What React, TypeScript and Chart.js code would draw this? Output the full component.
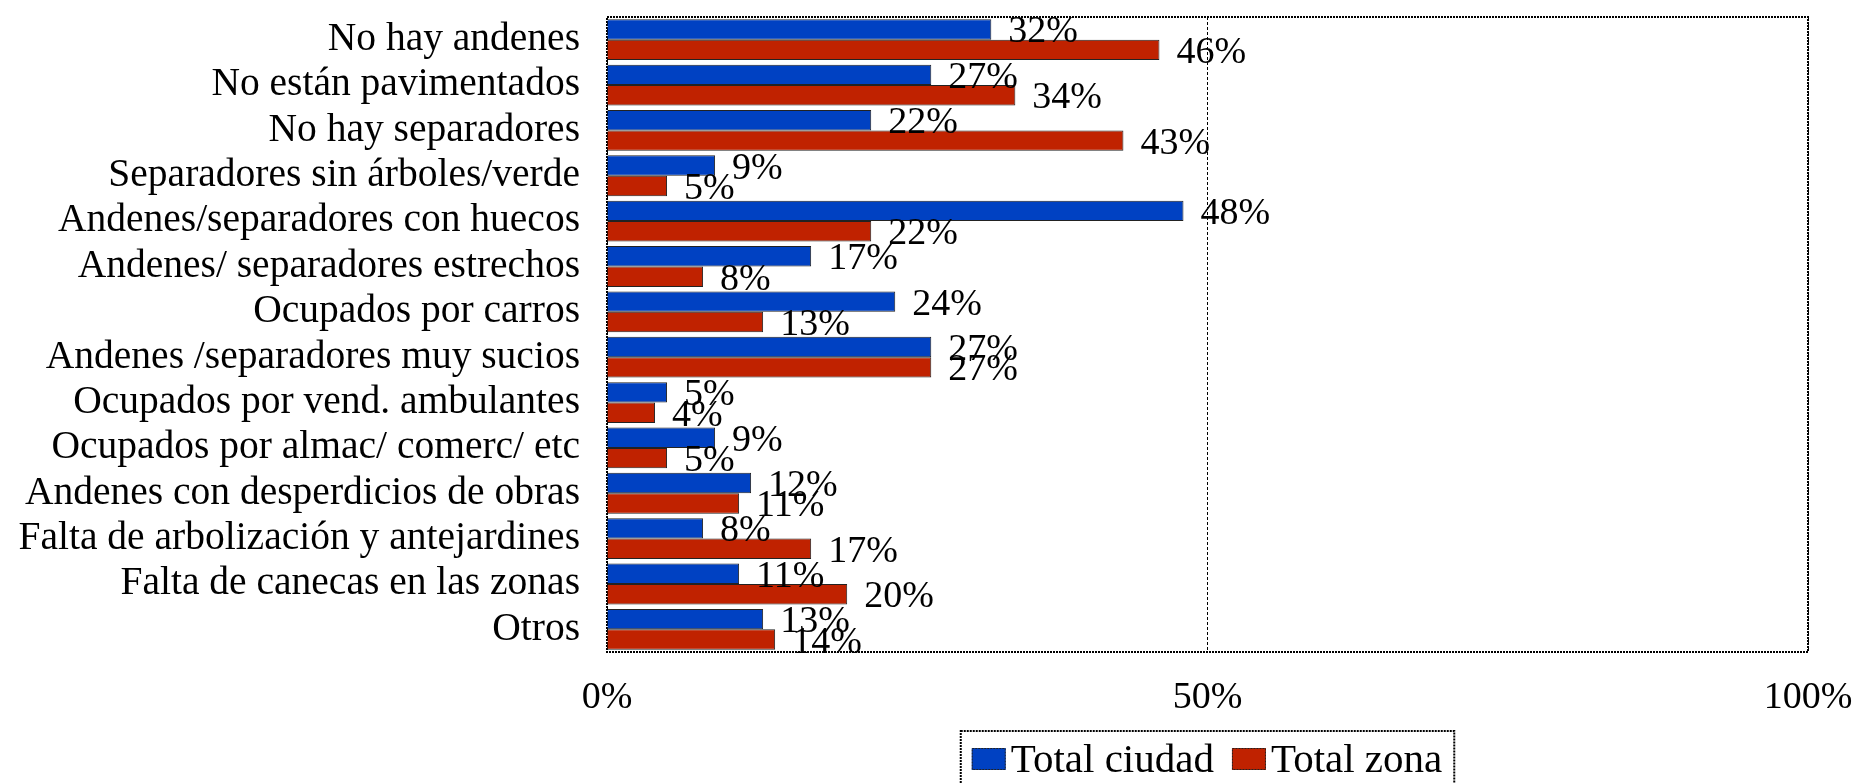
import React, { useEffect, useRef } from 'react';
import { Chart, registerables } from 'chart.js';

Chart.register(...registerables);

const categories = [
  'No hay andenes',
  'No están pavimentados',
  'No hay separadores',
  'Separadores sin árboles/verde',
  'Andenes/separadores con huecos',
  'Andenes/ separadores estrechos',
  'Ocupados por carros',
  'Andenes /separadores muy sucios',
  'Ocupados por vend. ambulantes',
  'Ocupados por almac/ comerc/ etc',
  'Andenes con desperdicios de obras',
  'Falta de arbolización y antejardines',
  'Falta de canecas en las zonas',
  'Otros',
];
const totalCiudad = [32, 27, 22, 9, 48, 17, 24, 27, 5, 9, 12, 8, 11, 13];
const totalZona = [46, 34, 43, 5, 22, 8, 13, 27, 4, 5, 11, 17, 20, 14];
const seriesNames = ['Total ciudad', 'Total zona'];
const seriesColors = ['#0041C2', '#C02200'];
const xTickValues = [0, 50, 100];

const FONT = '"Liberation Serif", "Times New Roman", serif';
const FS = 38;
const FS_CAT = 39.5;
const FS_LEG = 41;

const framePlugin = {
  id: 'frame',
  beforeDatasetsDraw(chart: any) {
    const { ctx, chartArea: a } = chart;
    ctx.save();
    ctx.strokeStyle = '#000';
    ctx.lineWidth = 2;
    ctx.setLineDash([2, 1]);
    ctx.strokeRect(a.left, a.top, a.right - a.left, a.bottom - a.top);
    ctx.restore();
  },
};

const labelPlugin = {
  id: 'barLabels',
  afterDatasetsDraw(chart: any) {
    const { ctx } = chart;
    ctx.save();
    ctx.font = `${FS}px ${FONT}`;
    ctx.fillStyle = '#000';
    ctx.textAlign = 'left';
    ctx.textBaseline = 'middle';
    chart.data.datasets.forEach((ds: any, di: number) => {
      const meta = chart.getDatasetMeta(di);
      meta.data.forEach((el: any, i: number) => {
        ctx.fillText(ds.data[i] + '%', el.x + 17, el.y + 3);
      });
    });
    ctx.restore();
  },
};

const legendPlugin = {
  id: 'boxLegend',
  afterDraw(chart: any) {
    const { ctx, chartArea: a } = chart;
    ctx.save();
    ctx.font = `${FS_LEG}px ${FONT}`;
    const sw = 34;
    const sh = 22;
    const padL = 11;
    const gapSw = 5;
    const gapItem = 18;
    const padR = 12;
    const widths = seriesNames.map((n) => ctx.measureText(n).width);
    let total = padL + padR;
    widths.forEach((w, i) => {
      total += sw + gapSw + w + (i < widths.length - 1 ? gapItem : 0);
    });
    const cx = (a.left + a.right) / 2;
    const left = cx - total / 2;
    const top = 731;
    ctx.strokeStyle = '#000';
    ctx.lineWidth = 2;
    ctx.setLineDash([2, 1]);
    ctx.strokeRect(left, top, total, 80);
    let x = left + padL;
    const baseY = 772;
    seriesNames.forEach((n, i) => {
      ctx.fillStyle = seriesColors[i];
      ctx.fillRect(x, 748, sw, sh);
      ctx.strokeStyle = '#222';
      ctx.lineWidth = 1;
      ctx.setLineDash([2, 1]);
      ctx.strokeRect(x + 0.5, 748.5, sw - 1, sh - 1);
      x += sw + gapSw;
      ctx.fillStyle = '#000';
      ctx.textAlign = 'left';
      ctx.textBaseline = 'alphabetic';
      ctx.fillText(n, x, baseY);
      x += widths[i] + gapItem;
    });
    ctx.restore();
  },
};

export default function App() {
  const ref = useRef<HTMLCanvasElement>(null);
  useEffect(() => {
    document.body.style.margin = '0';
    const chart = new Chart(ref.current as HTMLCanvasElement, {
      type: 'bar',
      data: {
        labels: categories,
        datasets: [
          {
            label: seriesNames[0],
            data: totalCiudad,
            backgroundColor: seriesColors[0],
            borderColor: '#222',
            borderWidth: 1,
            categoryPercentage: 0.9,
            barPercentage: 1.0,
          },
          {
            label: seriesNames[1],
            data: totalZona,
            backgroundColor: seriesColors[1],
            borderColor: '#222',
            borderWidth: 1,
            categoryPercentage: 0.9,
            barPercentage: 1.0,
          },
        ],
      },
      options: {
        indexAxis: 'y',
        animation: false,
        responsive: false,
        maintainAspectRatio: false,
        layout: { padding: { top: 17, right: 48, left: 0, bottom: 0 } },
        plugins: {
          legend: { display: false },
          tooltip: { enabled: false },
          title: { display: false },
        },
        scales: {
          x: {
            type: 'linear',
            min: 0,
            max: 100,
            afterBuildTicks(scale: any) {
              scale.ticks = xTickValues.map((v) => ({ value: v }));
            },
            afterFit(scale: any) {
              scale.height = 131;
              scale.paddingLeft = 0;
              scale.paddingRight = 0;
            },
            ticks: {
              color: '#000',
              font: { family: FONT, size: FS },
              padding: 23,
              maxRotation: 0,
              callback: (v: any) => v + '%',
            },
            grid: {
              display: true,
              color: '#000',
              lineWidth: 1,
              drawTicks: false,
              tickLength: 0,
            },
            border: { display: false, dash: [3, 2] },
          },
          y: {
            type: 'category',
            afterFit(scale: any) {
              scale.width = 607;
              scale.paddingTop = 0;
              scale.paddingBottom = 0;
            },
            ticks: {
              color: '#000',
              font: { family: FONT, size: FS_CAT },
              padding: 27,
              autoSkip: false,
            },
            grid: { display: false, drawTicks: false, tickLength: 0 },
            border: { display: false },
          },
        },
      } as any,
      plugins: [framePlugin, labelPlugin, legendPlugin],
    });
    return () => chart.destroy();
  }, []);
  return (
    <canvas
      ref={ref}
      width={1856}
      height={783}
      style={{ display: 'block', width: 1856, height: 783 }}
    />
  );
}
